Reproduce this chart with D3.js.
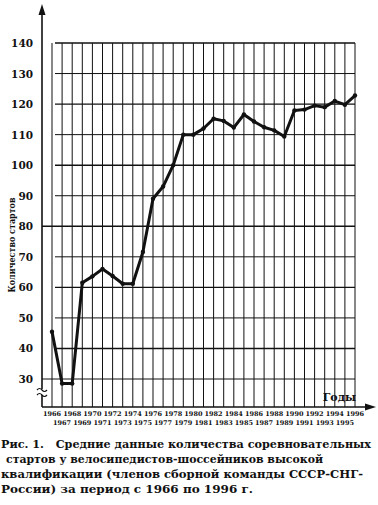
<!DOCTYPE html>
<html><head><meta charset="utf-8">
<script src="https://cdn.jsdelivr.net/npm/d3@7"></script>
<style>html,body{margin:0;padding:0;background:#fff;}svg{display:block;}</style>
</head><body>
<script>
const years = d3.range(1966, 1997);
const starts = [45.5, 28.5, 28.5, 61.5, 63.6, 66, 63.7, 61.2, 61.2, 71.6, 89, 93, 100, 110, 110,
                112, 115.2, 114.5, 112.3, 116.6, 114.3, 112.4, 111.4, 109.4, 117.9, 118.2, 119.5, 119, 121, 119.8, 122.8];
const yTicks = [30, 40, 50, 60, 70, 80, 90, 100, 110, 120, 130, 140];
const yTitle = "Количество стартов";
const xTitle = "Годы";
const caption = [
  "Рис. 1.   Средние данные количества соревновательных",
  "стартов у велосипедистов-шоссейников высокой",
  "квалификации (членов сборной команды СССР-СНГ-",
  "России) за период с 1966 по 1996 г."
];

const W = 378, H = 505;
const svg = d3.select("body").append("svg").attr("width", W).attr("height", H);
const font = "DejaVu Serif, Liberation Serif, serif";
const ink = "#111";

const x = d3.scaleLinear().domain([1966, 1996]).range([52, 355]);
const y = d3.scaleLinear().domain([30, 140]).range([379, 43]);
const axisX = 42, axisY = 407;

// vertical grid
svg.append("g").selectAll("line").data(years).join("line")
  .attr("x1", d => x(d)).attr("x2", d => x(d))
  .attr("y1", y(140)).attr("y2", axisY)
  .attr("stroke", ink).attr("stroke-width", 1);

// horizontal grid
svg.append("g").selectAll("line").data(yTicks).join("line")
  .attr("x1", d => (d === 80 || d === 30) ? axisX : x(1966) + 3)
  .attr("x2", x(1996))
  .attr("y1", d => y(d)).attr("y2", d => y(d))
  .attr("stroke", ink).attr("stroke-width", d => d % 20 === 0 ? 1.4 : 1);

// axes with arrows
svg.append("line").attr("x1", axisX).attr("x2", axisX).attr("y1", axisY).attr("y2", 12)
  .attr("stroke", ink).attr("stroke-width", 1.6);
svg.append("path").attr("d", `M${axisX},4 L${axisX - 3.5},15 L${axisX + 3.5},15 Z`).attr("fill", ink);
svg.append("line").attr("x1", axisX).attr("x2", 368).attr("y1", axisY).attr("y2", axisY)
  .attr("stroke", ink).attr("stroke-width", 1.6);
svg.append("path").attr("d", `M376,${axisY} L365,${axisY - 3.5} L365,${axisY + 3.5} Z`).attr("fill", ink);

// axis break mark
svg.append("rect").attr("x", axisX - 2).attr("y", 389).attr("width", 4).attr("height", 6).attr("fill", "#fff");
["M37,390 q2.5,-3 5,0 q2.5,3 5,0", "M37,395 q2.5,-3 5,0 q2.5,3 5,0"].forEach(p =>
  svg.append("path").attr("d", p).attr("fill", "none").attr("stroke", ink).attr("stroke-width", 1.2));

// y tick labels
svg.append("g").selectAll("text").data(yTicks).join("text")
  .attr("x", 33).attr("y", d => y(d) + 4)
  .attr("text-anchor", "end").attr("font-family", font).attr("font-weight", "bold")
  .attr("font-size", 10.5).attr("fill", ink).text(d => d);

// y title
svg.append("text").attr("transform", "translate(15,245) rotate(-90)")
  .attr("text-anchor", "middle").attr("font-family", font).attr("font-weight", "bold")
  .attr("font-size", 9.5).attr("fill", ink).attr("textLength", 95).attr("lengthAdjust", "spacingAndGlyphs")
  .text(yTitle);

// x labels (two rows)
svg.append("g").selectAll("text").data(years).join("text")
  .attr("x", d => x(d)).attr("y", d => (d % 2 === 0) ? 416 : 425)
  .attr("text-anchor", "middle").attr("font-family", font).attr("font-weight", "bold")
  .attr("font-size", 6.5).attr("fill", ink).text(d => d);

// x title
svg.append("text").attr("x", 356).attr("y", 401).attr("text-anchor", "end")
  .attr("font-family", font).attr("font-weight", "bold").attr("font-size", 11).attr("fill", ink).text(xTitle);

// data line
const pts = years.map((yr, i) => [yr, starts[i]]);
svg.append("path").datum(pts)
  .attr("d", d3.line().x(d => x(d[0])).y(d => y(d[1])))
  .attr("fill", "none").attr("stroke", ink).attr("stroke-width", 3).attr("stroke-linejoin", "round");
svg.append("g").selectAll("circle").data(pts).join("circle")
  .attr("cx", d => x(d[0])).attr("cy", d => y(d[1])).attr("r", 2.2).attr("fill", ink);

// caption
const capY = [448, 463, 478, 493];
const capX = [1, 6, 1, 1];
const capLen = [370, 317, 362, 252];
caption.forEach((t, i) => {
  svg.append("text").attr("x", capX[i]).attr("y", capY[i])
    .attr("font-family", font).attr("font-weight", "bold").attr("font-size", 10.5)
    .attr("fill", ink).style("white-space", "pre").text(t)
    .attr("textLength", capLen[i]).attr("lengthAdjust", "spacingAndGlyphs");
});
</script>
</body></html>
